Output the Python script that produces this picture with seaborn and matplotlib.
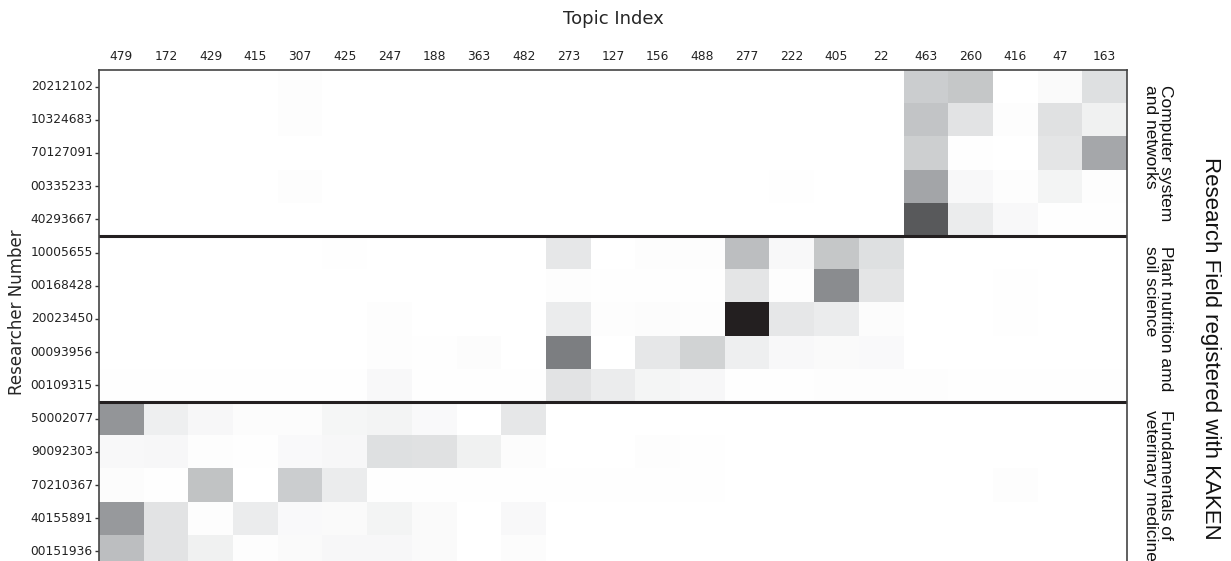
import numpy as np
import pandas as pd
import seaborn as sns
import matplotlib.pyplot as plt
from matplotlib.colors import LinearSegmentedColormap

# Topic indices (columns) and researcher numbers (rows)
topics = ["479", "172", "429", "415", "307", "425", "247", "188", "363", "482",
          "273", "127", "156", "488", "277", "222", "405", "22",
          "463", "260", "416", "47", "163"]

computer_ids = ["20212102", "10324683", "70127091", "00335233", "40293667"]
plant_ids = ["10005655", "00168428", "20023450", "00093956", "00109315"]
vet_ids = ["50002077", "90092303", "70210367", "40155891", "00151936"]

field_labels = ["Computer system\nand networks",
                "Plant nutrition amd\nsoil science",
                "Fundamentals of\nveterinary medicine"]

# Topic weights per researcher
computer_vals = [
    [0, 0, 0, 0, 0.01, 0, 0, 0, 0, 0, 0, 0, 0, 0, 0, 0, 0, 0, 0.23, 0.26, 0, 0.02, 0.14],
    [0, 0, 0, 0, 0.01, 0, 0, 0, 0, 0, 0, 0, 0, 0, 0, 0, 0, 0, 0.27, 0.12, 0.01, 0.13, 0.06],
    [0, 0, 0, 0, 0, 0, 0, 0, 0, 0, 0, 0, 0, 0, 0, 0, 0, 0, 0.22, 0.005, 0, 0.11, 0.41],
    [0, 0, 0, 0, 0.01, 0, 0, 0, 0, 0, 0, 0, 0, 0, 0, 0.005, 0, 0, 0.42, 0.03, 0.01, 0.05, 0.01],
    [0, 0, 0, 0, 0, 0, 0, 0, 0, 0, 0, 0, 0, 0, 0, 0, 0, 0, 0.80, 0.08, 0.03, 0.005, 0.005],
]
plant_vals = [
    [0, 0, 0, 0, 0, 0.005, 0, 0, 0, 0, 0.10, 0, 0.01, 0.01, 0.30, 0.03, 0.26, 0.14, 0, 0, 0, 0, 0],
    [0, 0, 0, 0, 0, 0, 0, 0, 0, 0, 0.01, 0.005, 0.005, 0.005, 0.11, 0.01, 0.55, 0.11, 0, 0, 0.005, 0, 0],
    [0, 0, 0, 0, 0, 0, 0.01, 0, 0, 0, 0.08, 0.01, 0.015, 0.01, 1.00, 0.10, 0.08, 0.015, 0, 0, 0.005, 0, 0],
    [0, 0, 0, 0, 0, 0, 0.01, 0.005, 0.015, 0, 0.62, 0, 0.10, 0.20, 0.07, 0.03, 0.02, 0.025, 0, 0, 0, 0, 0],
    [0.005, 0.005, 0.005, 0.005, 0.005, 0.005, 0.03, 0.005, 0.005, 0.005, 0.12, 0.08, 0.045, 0.035,
     0.005, 0.005, 0.01, 0.01, 0.01, 0.005, 0.005, 0.005, 0.005],
]
vet_vals = [
    [0.50, 0.07, 0.035, 0.015, 0.015, 0.04, 0.05, 0.025, 0, 0.10, 0, 0, 0, 0, 0, 0, 0, 0, 0, 0, 0, 0, 0],
    [0.03, 0.035, 0.01, 0.005, 0.025, 0.035, 0.14, 0.13, 0.06, 0.015, 0, 0, 0.01, 0.005, 0, 0, 0, 0, 0, 0, 0, 0, 0],
    [0.015, 0.005, 0.28, 0, 0.23, 0.08, 0.005, 0.005, 0.005, 0.005, 0.005, 0.005, 0.005, 0.005,
     0, 0, 0, 0, 0, 0, 0.01, 0, 0],
    [0.48, 0.12, 0.01, 0.08, 0.025, 0.02, 0.05, 0.02, 0, 0.03, 0, 0, 0, 0, 0, 0, 0, 0, 0, 0, 0, 0, 0],
    [0.30, 0.12, 0.06, 0.01, 0.02, 0.035, 0.035, 0.02, 0, 0.015, 0, 0, 0, 0, 0, 0, 0, 0, 0, 0, 0, 0, 0],
]

df = pd.DataFrame(computer_vals + plant_vals + vet_vals,
                  index=computer_ids + plant_ids + vet_ids, columns=topics)

# White-to-black ramp through print-style neutral greys
grey_steps = ["#FFFFFF", "#E6E7E8", "#D1D3D4", "#BCBEC0", "#A7A9AC", "#939598",
              "#808285", "#6D6E71", "#58595B", "#414042", "#231F20"]
cmap = LinearSegmentedColormap.from_list("print_greys", grey_steps)

sns.set_style("white")

W, H = 1231, 561
fig = plt.figure(figsize=(W / 100, H / 100), dpi=100)
ax_left, ax_right, ax_top, ax_bottom = 99, 1127, 70, 568
ax = fig.add_axes([ax_left / W, 1 - ax_bottom / H,
                   (ax_right - ax_left) / W, (ax_bottom - ax_top) / H])

sns.heatmap(df, ax=ax, cmap=cmap, vmin=0, vmax=1, cbar=False,
            xticklabels=True, yticklabels=True)

ax.set_xlabel("")
ax.set_ylabel("")
ax.xaxis.tick_top()
ax.tick_params(axis="x", top=True, bottom=False, labeltop=True, labelbottom=False,
               direction="in", length=4, width=1, color="#333333",
               labelsize=8.8, labelcolor="#222222", pad=5, rotation=0)
ax.tick_params(axis="y", left=True, right=False, direction="out", length=3, width=1,
               color="#333333", labelsize=8.8, labelcolor="#222222", pad=1.5, rotation=0)

for spine in ax.spines.values():
    spine.set_visible(True)
    spine.set_color("#444444")
    spine.set_linewidth(1.2)

# Separators between research fields
n_group = len(computer_ids)
for boundary in (n_group, 2 * n_group):
    ax.axhline(boundary, color="#231F20", lw=2.2)

fig.text(613 / W, 1 - 19 / H, "Topic Index", ha="center", va="center", fontsize=13)
fig.text(17 / W, 1 - 312 / H, "Researcher Number", ha="center", va="center",
         rotation=90, fontsize=12)

row_h = (ax_bottom - ax_top) / len(df)
for g, label in enumerate(field_labels):
    yc = ax_top + row_h * (g * n_group + n_group / 2)
    fig.text(1158 / W, 1 - yc / H, label, ha="center", va="center", rotation=-90,
             fontsize=12.5, family="Liberation Sans", multialignment="left",
             linespacing=1.05, color="#111111")

fig.text(1211 / W, 1 - 348 / H, "Research Field registered with KAKEN",
         ha="center", va="center", rotation=-90, fontsize=16,
         family="Liberation Sans", color="#111111")

fig.savefig("out.png", dpi=100)
